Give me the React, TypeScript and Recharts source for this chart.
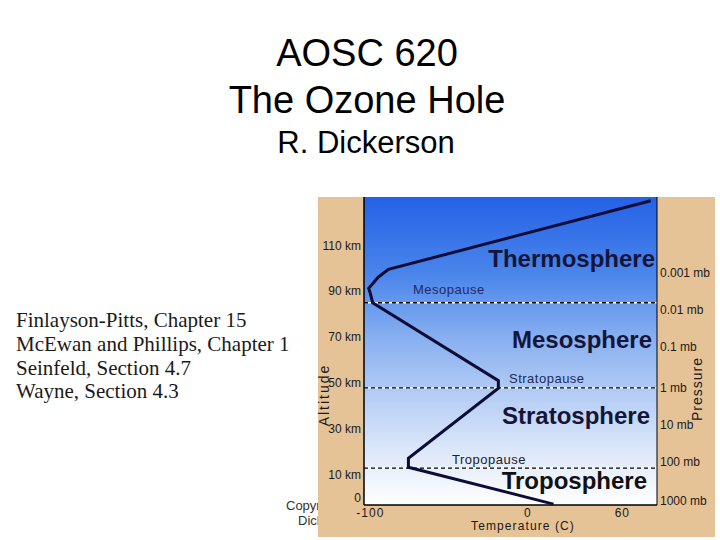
import React from 'react';
import {
  ScatterChart,
  Scatter,
  XAxis,
  YAxis,
  ReferenceArea,
  ReferenceLine,
} from 'recharts';

// Temperature profile of the atmosphere
const temps = [78, -88.5, -95, -101, -100, -98.5, -18.7, -18.7, -75.8, -75.8, 16.3];
const alts = [129.4, 99.5, 96.1, 91.3, 89.1, 85.0, 51.1, 47.8, 17.3, 13.4, -2.6];

// Layer boundaries (km)
const pauseAlts = [85, 48, 13];

// Axis ticks
const altTicks = [0, 10, 30, 50, 70, 90, 110];
const tempTicks = [-100, 0, 60];
const pressureLabels = ['0.001 mb', '0.01 mb', '0.1 mb', '1 mb', '10 mb', '100 mb', '1000 mb'];
const pressureAlts = [98, 82, 66, 48, 32, 16, -1.3];

const references = [
  'Finlayson-Pitts, Chapter 15',
  'McEwan and Phillips, Chapter 1',
  'Seinfeld, Section 4.7',
  'Wayne, Section 4.3',
];

const profile = temps.map((t, i) => ({ temp: t, alt: alts[i] }));

const SANS = '"Liberation Sans", Arial, sans-serif';
const SERIF = '"Liberation Serif", "Times New Roman", serif';
const LABEL = '#15153a';

const noShape = () => <g />;

// plain single-line tick text (recharts wraps otherwise)
const makeTick = (format: (v: number) => string, anchor: string, dy: string, spacing = 0) =>
  (props: any) => {
    const { x, y, payload } = props;
    return (
      <text x={x} y={y} dy={dy} textAnchor={anchor} fill="#1a1a1a" fontSize={12} letterSpacing={spacing}>
        {format(payload.value)}
      </text>
    );
  };

const altTick = makeTick((v) => (v === 0 ? '0' : `${v} km`), 'end', '0.355em');
const pressureTick = makeTick((v) => pressureLabels[pressureAlts.indexOf(v)] ?? '', 'start', '0.355em');
const tempTick = makeTick((v) => String(v), 'middle', '0.71em', 1);

const App: React.FC = () => {
  return (
    <div style={{ position: 'absolute', left: 0, top: 0, width: 720, height: 540, background: '#fff', overflow: 'hidden' }}>
      {/* slide text under the chart picture */}
      <svg width={720} height={540} style={{ position: 'absolute', left: 0, top: 0 }}>
        <g fontFamily={SANS} fill="#000" textAnchor="middle">
          <text x={367} y={66} fontSize={38}>AOSC 620</text>
          <text x={367} y={113} fontSize={38}>The Ozone Hole</text>
          <text x={366} y={153} fontSize={31}>R. Dickerson</text>
        </g>
        <g fontFamily={SERIF} fill="#1a1a1a" fontSize={21}>
          {references.map((r, i) => (
            <text key={r} x={16} y={327 + i * 23.8}>{r}</text>
          ))}
        </g>
        <g fontFamily={SANS} fill="#333" fontSize={13}>
          <text x={286} y={510}>Copyright</text>
          <text x={298} y={525}>Dickerson</text>
        </g>
      </svg>

      <div style={{ position: 'absolute', left: 318, top: 197, width: 397, height: 340, background: '#e6c396', fontFamily: SANS }}>
        <ScatterChart width={397} height={340} margin={{ top: 0, right: 0, bottom: 0, left: 0 }}>
          <defs>
            <linearGradient id="sky" x1="0" y1="0" x2="0" y2="1">
              <stop offset="0%" stopColor="#2462e6" />
              <stop offset="25%" stopColor="#4a85ea" />
              <stop offset="45%" stopColor="#86aef0" />
              <stop offset="65%" stopColor="#b6cef5" />
              <stop offset="85%" stopColor="#e2ebfa" />
              <stop offset="100%" stopColor="#ffffff" />
            </linearGradient>
          </defs>
          <XAxis
            type="number"
            dataKey="temp"
            domain={[-104, 82]}
            ticks={tempTicks}
            interval={0}
            height={32}
            tickSize={0}
            tickMargin={3}
            tickLine={false}
            axisLine={{ stroke: '#000', strokeWidth: 1.5 }}
            tick={tempTick}
          />
          <YAxis
            type="number"
            dataKey="alt"
            domain={[-3, 131]}
            ticks={altTicks}
            interval={0}
            width={46}
            tickSize={0}
            tickMargin={3}
            tickLine={false}
            axisLine={{ stroke: '#000', strokeWidth: 1.5 }}
            tick={altTick}
          />
          <YAxis
            yAxisId="p"
            orientation="right"
            type="number"
            dataKey="alt"
            domain={[-3, 131]}
            ticks={pressureAlts}
            interval={0}
            width={58}
            tickSize={0}
            tickMargin={3}
            tickLine={false}
            axisLine={{ stroke: '#000', strokeWidth: 1 }}
            tick={pressureTick}
          />
          <ReferenceArea x1={-104} x2={82} y1={-3} y2={131} fill="url(#sky)" fillOpacity={1} stroke="none" />
          {pauseAlts.map((a) => (
            <ReferenceLine key={`w-${a}`} y={a} stroke="#ffffff" strokeWidth={1.3} />
          ))}
          {pauseAlts.map((a) => (
            <ReferenceLine key={`b-${a}`} y={a} stroke="#000" strokeWidth={1.3} strokeDasharray="4 3" />
          ))}
          <Scatter
            data={profile}
            line={{ stroke: '#0c0c36', strokeWidth: 3 }}
            lineJointType="linear"
            shape={noShape}
            isAnimationActive={false}
          />
          <Scatter yAxisId="p" data={profile} shape={noShape} isAnimationActive={false} />
        </ScatterChart>
      </div>

      {/* labels drawn on the chart picture */}
      <svg width={720} height={540} style={{ position: 'absolute', left: 0, top: 0, pointerEvents: 'none' }}>
        <g fontFamily={SANS} fontWeight="bold" fontSize={24} fill={LABEL} textAnchor="end">
          <text x={655} y={267}>Thermosphere</text>
          <text x={652} y={348}>Mesosphere</text>
          <text x={650} y={424}>Stratosphere</text>
          <text x={647} y={489} fill="#111">Troposphere</text>
        </g>
        <g fontFamily={SANS} fontSize={13} letterSpacing={0.5}>
          <text x={413} y={294} fill="#1e2a6a">Mesopause</text>
          <text x={509} y={383} fill="#1e2a5a">Stratopause</text>
          <text x={452} y={464} fill="#222">Tropopause</text>
        </g>
        <g fontFamily={SANS} fill="#1a1a1a">
          <text x={523} y={530} fontSize={12} letterSpacing={1.1} textAnchor="middle">Temperature (C)</text>
          <text transform="translate(329 395) rotate(-90)" fontSize={14} letterSpacing={2} textAnchor="middle">Altitude</text>
          <text transform="translate(702 389) rotate(-90)" fontSize={14} letterSpacing={1} textAnchor="middle">Pressure</text>
        </g>
      </svg>
    </div>
  );
};

export default App;
